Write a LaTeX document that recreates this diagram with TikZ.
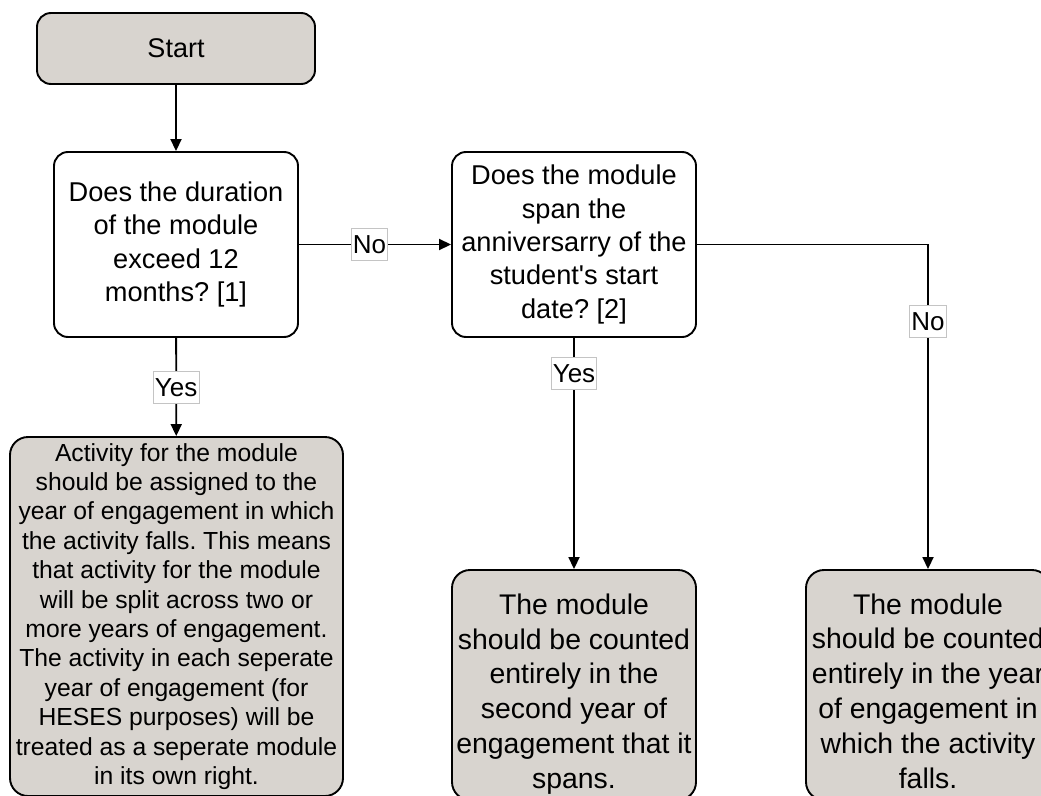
\documentclass[tikz,border=0pt]{standalone}
\usepackage{fontspec}
\setmainfont{Liberation Sans}[Ligatures=TeXOff]
\usetikzlibrary{arrows.meta}
\definecolor{boxfill}{RGB}{216,212,207}
\definecolor{lblframe}{RGB}{196,196,196}
\frenchspacing
\begin{document}
\begin{tikzpicture}[x=1pt,y=-1pt,
  frame/.style={draw=black, line width=1.9pt, rounded corners=14pt, inner sep=0pt},
  startbox/.style={frame, fill=boxfill, minimum width=278pt, minimum height=71pt,
    font=\fontsize{27}{33}\selectfont},
  question/.style={frame, fill=white, minimum width=244pt, minimum height=185pt,
    align=center, font=\fontsize{27.2}{33.3}\selectfont},
  outcome/.style={frame, fill=boxfill, rounded corners=18pt},
  bodytext/.style={inner sep=0pt, align=center},
  lbl/.style={fill=white, draw=lblframe, line width=0.8pt, inner xsep=1.5pt,
    inner ysep=1.5pt, text height=23.5pt, text depth=5.5pt,
    font=\fontsize{26}{30}\selectfont},
  flow/.style={line width=1.8pt, -{Triangle[length=12pt,width=11pt]}}
]
\useasboundingbox (0,0) rectangle (1041,795);
\clip (0,0) rectangle (1041,795);

% start and decisions
\node[startbox] (start) at (176,48.5) {Start};
\node[question] (q1) at (176,244.5)
  {Does the duration\\of the module\\exceed 12\\months? [1]};
\node[question] (q2) at (574,244.5)
  {Does the module\\span the\\anniversarry of the\\student's start\\date? [2]};

% outcomes
\node[outcome, minimum width=333pt, minimum height=359pt] (splitbox) at (176.5,616.5) {};
\node[bodytext, font=\fontsize{24.7}{29.4}\selectfont] (splittext) at (176.5,616.5)
  {Activity for the module\\should be assigned to the\\year of engagement in which\\the activity falls. This means\\that activity for the module\\will be split across two or\\more years of engagement.\\The activity in each seperate\\year of engagement (for\\HESES purposes) will be\\treated as a seperate module\\in its own right.};

\node[outcome, minimum width=244pt, minimum height=230pt] (secondbox) at (574,685) {};
\node[bodytext, font=\fontsize{28.4}{34.8}\selectfont] (secondtext) at (574,694)
  {The module\\should be counted\\entirely in the\\second year of\\engagement that it\\spans.};

\node[outcome, minimum width=244pt, minimum height=230pt] (fallbox) at (928,685) {};
\node[bodytext, font=\fontsize{28.4}{34.8}\selectfont] (falltext) at (928,691)
  {The module\\should be counted\\entirely in the year\\of engagement in\\which the activity\\falls.};

% connectors
\draw[flow] (start) -- (q1);
\draw[flow] (q1) -- node[lbl, pos=0.464] {No} (q2);
\draw[flow] (q1) -- node[lbl, pos=0.5] {Yes} (splitbox);
\draw[flow] (q2) -- node[lbl, pos=0.152] {Yes} (secondbox);
\draw[flow] (q2.east) -| node[lbl, pos=0.618] {No} (fallbox.north);
\end{tikzpicture}
\end{document}
